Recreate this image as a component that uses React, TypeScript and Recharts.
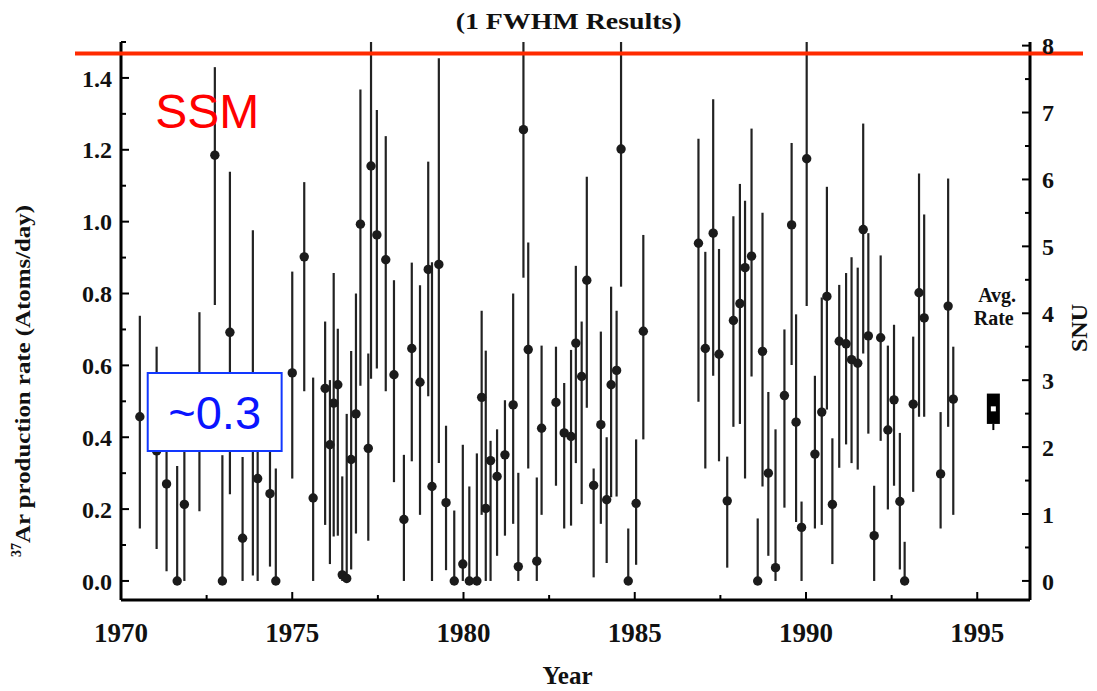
import React from "react";
import {
  ScatterChart,
  Scatter,
  XAxis,
  YAxis,
  ErrorBar,
  ReferenceLine,
  ReferenceArea,
  ReferenceDot,
  Label,
} from "recharts";

// run dates (fractional year)
const years = [
  1970.55, 1971.04, 1971.33, 1971.64, 1971.85, 1972.29, 1972.74, 1972.96, 1973.18, 1973.55,
  1973.85, 1973.99, 1974.35, 1974.52, 1975.0, 1975.35, 1975.61, 1975.96, 1976.1, 1976.21,
  1976.33, 1976.46, 1976.59, 1976.72, 1976.86, 1976.99, 1977.22, 1977.3, 1977.47, 1977.73,
  1977.97, 1978.26, 1978.49, 1978.73, 1978.97, 1979.08, 1979.28, 1979.49, 1979.73, 1979.98,
  1980.17, 1980.39, 1980.53, 1980.65, 1980.79, 1980.98, 1981.21, 1981.45, 1981.6, 1981.75,
  1981.89, 1982.14, 1982.28, 1982.7, 1982.94, 1983.14, 1983.28, 1983.45, 1983.6, 1983.8,
  1984.01, 1984.18, 1984.31, 1984.47, 1984.6, 1984.81, 1985.04, 1985.25, 1986.86, 1987.06,
  1987.29, 1987.46, 1987.7, 1987.88, 1988.07, 1988.22, 1988.41, 1988.59, 1988.73, 1988.9,
  1989.11, 1989.37, 1989.58, 1989.71, 1989.87, 1990.02, 1990.26, 1990.46, 1990.61, 1990.77,
  1990.97, 1991.17, 1991.33, 1991.51, 1991.67, 1991.82, 1991.99, 1992.18, 1992.39, 1992.57,
  1992.74, 1992.88, 1993.13, 1993.3, 1993.45, 1993.93, 1994.15, 1994.3,
];

// 37Ar production rate (atoms/day)
const rates = [
  0.457, 0.362, 0.27, 0, 0.213, 0.47, 1.185, 0, 0.692, 0.119,
  0.5, 0.285, 0.243, 0, 0.579, 0.902, 0.231, 0.536, 0.379, 0.495,
  0.546, 0.017, 0.007, 0.338, 0.465, 0.993, 0.369, 1.155, 0.963, 0.894,
  0.574, 0.171, 0.647, 0.553, 0.867, 0.263, 0.881, 0.218, 0, 0.047,
  0, 0, 0.511, 0.202, 0.335, 0.291, 0.351, 0.49, 0.04, 1.256,
  0.644, 0.055, 0.425, 0.497, 0.412, 0.402, 0.662, 0.569, 0.837, 0.266,
  0.435, 0.226, 0.546, 0.586, 1.202, 0, 0.216, 0.695, 0.94, 0.647,
  0.968, 0.631, 0.223, 0.725, 0.772, 0.872, 0.904, 0, 0.639, 0.3,
  0.037, 0.516, 0.991, 0.442, 0.149, 1.175, 0.353, 0.47, 0.792, 0.213,
  0.667, 0.66, 0.616, 0.606, 0.978, 0.682, 0.126, 0.677, 0.42, 0.504,
  0.221, 0, 0.492, 0.802, 0.732, 0.298, 0.765, 0.506,
];

// lower end of the 1 FWHM bar
const lowEnds = [
  0.146, 0.089, 0.027, 0, 0, 0.194, 0.768, 0, 0.241, 0,
  0.015, 0, 0.04, 0, 0.285, 0.528, 0, 0.156, 0.047, 0.124,
  0.126, 0, 0, 0.032, 0.132, 0.543, 0.112, 0.563, 0.591, 0.528,
  0.275, 0, 0.333, 0.184, 0.514, 0, 0.328, 0.03, 0, 0,
  0, 0, 0.184, 0, 0, 0.07, 0.126, 0.159, 0, 0.844,
  0.313, 0, 0.184, 0.265, 0.146, 0.154, 0.328, 0.214, 0.482, 0.01,
  0.159, 0.05, 0.233, 0.235, 0.819, 0, 0.045, 0.394, 0.499, 0.313,
  0.571, 0.333, 0.037, 0.429, 0.437, 0.285, 0.569, 0, 0.263, 0.07,
  0, 0.204, 0.601, 0.164, 0, 0.765, 0.146, 0.156, 0.477, 0.047,
  0.315, 0.38, 0.328, 0.31, 0.633, 0.41, 0, 0.39, 0.199, 0.265,
  0.032, 0, 0.248, 0.457, 0.457, 0.146, 0.429, 0.184,
];

// upper end of the 1 FWHM bar
const highEnds = [
  0.738, 0.652, 0.51, 0.32, 0.45, 0.748, 1.43, 0.35, 1.139, 0.345,
  0.976, 0.56, 0.46, 0.313, 0.861, 1.11, 0.566, 0.722, 0.559, 0.857,
  0.702, 0.291, 0.465, 0.64, 0.8, 1.368, 0.633, 1.5, 1.311, 1.238,
  0.837, 0.351, 0.886, 0.823, 1.167, 0.887, 1.455, 0.432, 0.196, 0.379,
  0.263, 0.355, 0.752, 0.641, 0.39, 0.422, 0.503, 0.8, 0.301, 1.5,
  0.942, 0.288, 0.655, 0.652, 0.551, 0.643, 0.877, 0.722, 1.125, 0.313,
  0.694, 0.4, 0.819, 0.752, 1.5, 0.146, 0.394, 0.963, 1.231, 0.916,
  1.341, 0.924, 0.346, 1.015, 1.105, 1.058, 1.259, 0.174, 1.025, 0.526,
  0.422, 0.7, 1.219, 0.742, 0.221, 1.5, 0.571, 0.789, 1.097, 0.397,
  0.824, 0.857, 0.901, 0.872, 1.273, 0.968, 0.265, 0.906, 0.655, 0.713,
  0.412, 0.109, 0.68, 1.134, 1.02, 0.47, 1.12, 0.652,
];

const xTicks = [1970, 1972.5, 1975, 1977.5, 1980, 1982.5, 1985, 1987.5, 1990, 1992.5, 1995];
const leftTicks = [0, 0.1, 0.2, 0.3, 0.4, 0.5, 0.6, 0.7, 0.8, 0.9, 1.0, 1.1, 1.2, 1.3, 1.4, 1.5];
const rightTicks = [0, 0.5, 1, 1.5, 2, 2.5, 3, 3.5, 4, 4.5, 5, 5.5, 6, 6.5, 7, 7.5, 8];

// average rate marker
const avgYear = 1995.47;
const avgRate = 0.479;
const avgBox = [0.437, 0.5215];
const avgTail = 0.42;

const ssmRate = 1.468;

const FONT = "'Liberation Serif', 'Times New Roman', serif";
const SANS = "'Liberation Sans', Arial, sans-serif";
const TM_Y = 9;
const TM_R = 12;
const TM_X = 20;

const points = years.map((yr, i) => ({
  year: yr,
  rate: rates[i],
  err: [rates[i] - lowEnds[i], highEnds[i] - rates[i]],
}));

function LeftTick(props: any) {
  const { x, y, payload } = props;
  const n = Math.round(payload.value * 10);
  const major = n % 2 === 0;
  const ax = x + TM_Y;
  return (
    <g>
      <line x1={ax} x2={ax + (major ? 8 : 5)} y1={y} y2={y} stroke="#000" strokeWidth={2} />
      {major && n <= 14 && (
        <text x={x} y={y} dy="0.36em" textAnchor="end" fontFamily={FONT} fontWeight="bold" fontSize={24} fill="#111">
          {payload.value.toFixed(1)}
        </text>
      )}
    </g>
  );
}

function RightTick(props: any) {
  const { x, y, payload } = props;
  const major = Number.isInteger(payload.value);
  const ax = x - TM_R;
  return (
    <g>
      <line x1={ax} x2={ax - (major ? 8 : 5)} y1={y} y2={y} stroke="#000" strokeWidth={2} />
      {major && (
        <text x={x} y={y} dy="0.36em" textAnchor="start" fontFamily={FONT} fontWeight="bold" fontSize={24} fill="#111">
          {payload.value}
        </text>
      )}
    </g>
  );
}

function BottomTick(props: any) {
  const { x, y, payload } = props;
  const major = payload.value % 5 === 0;
  const ay = y - TM_X;
  return (
    <g>
      <line x1={x} x2={x} y1={ay} y2={ay - (major ? 8 : 5)} stroke="#000" strokeWidth={2} />
      {major && (
        <text x={x} y={ay + 42} textAnchor="middle" fontFamily={FONT} fontWeight="bold" fontSize={27} fill="#111">
          {payload.value}
        </text>
      )}
    </g>
  );
}

function TopTick(props: any) {
  const { x, y, payload } = props;
  const major = payload.value % 5 === 0;
  const ay = y + TM_X;
  return <line x1={x} x2={x} y1={ay} y2={ay + (major ? 8 : 5)} stroke="#000" strokeWidth={2} />;
}

export default function App() {
  return (
    <div style={{ position: "absolute", left: 0, top: 0, background: "#fff" }}>
      <ScatterChart width={1097} height={691} margin={{ top: 42, right: 0, bottom: 0, left: 0 }}>
        <XAxis
          xAxisId="bottom"
          type="number"
          dataKey="year"
          domain={[1970, 1996.54]}
          allowDataOverflow
          ticks={xTicks}
          interval={0}
          height={91}
          tickSize={0}
          tickMargin={TM_X}
          tickLine={false}
          tick={<BottomTick />}
          axisLine={{ stroke: "#000", strokeWidth: 3 }}
        >
          <Label
            content={({ viewBox }: any) => (
              <text x={viewBox.x + viewBox.width / 2 - 8} y={viewBox.y + 84} textAnchor="middle" fontFamily={FONT} fontWeight="bold" fontSize={25} fill="#111">
                Year
              </text>
            )}
          />
        </XAxis>
        <XAxis
          xAxisId="top"
          orientation="top"
          type="number"
          dataKey="year"
          domain={[1970, 1996.54]}
          allowDataOverflow
          ticks={xTicks}
          interval={0}
          height={0}
          tickSize={0}
          tickMargin={TM_X}
          tickLine={false}
          tick={<TopTick />}
          axisLine={{ stroke: "#000", strokeWidth: 3 }}
        />
        <YAxis
          yAxisId="left"
          type="number"
          dataKey="rate"
          domain={[-0.053, 1.5]}
          allowDataOverflow
          ticks={leftTicks}
          interval={0}
          width={121}
          tickSize={0}
          tickMargin={TM_Y}
          tickLine={false}
          tick={<LeftTick />}
          axisLine={{ stroke: "#000", strokeWidth: 3 }}
        >
          <Label
            content={({ viewBox }: any) => {
              const cx = viewBox.x + 30;
              const cy = viewBox.y + viewBox.height / 2 + 60;
              return (
                <text transform={`translate(${cx}, ${cy}) rotate(-90)`} textAnchor="middle" fontFamily={FONT} fontWeight="bold" fontSize={22} fill="#111">
                  <tspan fontSize={14} dy={-9}>37</tspan>
                  <tspan dy={9} textLength={338} lengthAdjust="spacingAndGlyphs">
                    Ar production rate (Atoms/day)
                  </tspan>
                </text>
              );
            }}
          />
        </YAxis>
        <YAxis
          yAxisId="right"
          orientation="right"
          type="number"
          domain={[-0.285, 8.054]}
          allowDataOverflow
          ticks={rightTicks}
          interval={0}
          width={67}
          tickSize={0}
          tickMargin={TM_R}
          tickLine={false}
          tick={<RightTick />}
          axisLine={{ stroke: "#000", strokeWidth: 3 }}
        >
          <Label
            content={({ viewBox }: any) => {
              const cx = viewBox.x + 57;
              const cy = viewBox.y + viewBox.height / 2 + 7;
              return (
                <text transform={`translate(${cx}, ${cy}) rotate(-90)`} textAnchor="middle" fontFamily={FONT} fontWeight="bold" fontSize={24} fill="#111">
                  SNU
                </text>
              );
            }}
          />
        </YAxis>

        <Scatter
          data={points}
          xAxisId="bottom"
          yAxisId="left"
          dataKey="rate"
          isAnimationActive={false}
          shape={(p: any) => <circle cx={p.cx} cy={p.cy} r={4.7} fill="#1b1b1b" />}
        >
          <ErrorBar dataKey="err" direction="y" width={0} stroke="#222" strokeWidth={2.2} isAnimationActive={false} />
        </Scatter>

        {/* title, hung off the top edge of the plot */}
        <ReferenceDot
          xAxisId="bottom"
          yAxisId="left"
          x={1983.07}
          y={1.5}
          ifOverflow="visible"
          zIndex={1500}
          shape={(p: any) => (
            <text x={p.cx} y={p.cy - 13} textAnchor="middle" fontFamily={FONT} fontWeight="bold" fontSize={23} fill="#111" textLength={226} lengthAdjust="spacingAndGlyphs">
              (1 FWHM Results)
            </text>
          )}
        />

        <ReferenceLine
          xAxisId="bottom"
          yAxisId="left"
          y={ssmRate}
          stroke="#ff2a00"
          strokeWidth={4}
          ifOverflow="visible"
          zIndex={1500}
          shape={(p: any) => (
            <line x1={p.x1 - 46} x2={p.x2 + 53} y1={p.y1} y2={p.y2} stroke="#ff2a00" strokeWidth={4} />
          )}
        />
        <ReferenceDot
          xAxisId="bottom"
          yAxisId="left"
          x={1971.0}
          y={1.262}
          zIndex={1500}
          shape={(p: any) => (
            <text x={p.cx} y={p.cy} fontFamily={SANS} fontSize={48} fill="#ff0000">
              SSM
            </text>
          )}
        />

        <ReferenceArea
          xAxisId="bottom"
          yAxisId="left"
          x1={1970.78}
          x2={1974.69}
          y1={0.362}
          y2={0.579}
          fill="#ffffff"
          fillOpacity={1}
          stroke="#1238ff"
          strokeWidth={2}
          zIndex={1500}
          label={{ value: "~0.3", position: "center", fill: "#0a14ff", fontSize: 47, fontFamily: SANS }}
        />

        <ReferenceLine
          xAxisId="bottom"
          yAxisId="left"
          segment={[
            { x: avgYear, y: avgTail },
            { x: avgYear, y: avgBox[0] },
          ]}
          stroke="#000"
          strokeWidth={2}
          zIndex={1500}
        />
        <ReferenceArea
          xAxisId="bottom"
          yAxisId="left"
          x1={avgYear - 0.19}
          x2={avgYear + 0.19}
          y1={avgBox[0]}
          y2={avgBox[1]}
          fill="#000"
          fillOpacity={1}
          zIndex={1500}
        />
        <ReferenceDot
          xAxisId="bottom"
          yAxisId="left"
          x={avgYear}
          y={avgRate}
          zIndex={1600}
          shape={(p: any) => <rect x={p.cx - 2.5} y={p.cy - 2.5} width={5} height={5} fill="#fff" />}
        />
        <ReferenceDot
          xAxisId="bottom"
          yAxisId="left"
          x={1995.58}
          y={0.776}
          zIndex={1500}
          shape={(p: any) => (
            <text x={p.cx} y={p.cy} textAnchor="middle" fontFamily={FONT} fontWeight="bold" fontSize={20} fill="#111">
              Avg.
            </text>
          )}
        />
        <ReferenceDot
          xAxisId="bottom"
          yAxisId="left"
          x={1995.48}
          y={0.712}
          zIndex={1500}
          shape={(p: any) => (
            <text x={p.cx} y={p.cy} textAnchor="middle" fontFamily={FONT} fontWeight="bold" fontSize={20} fill="#111">
              Rate
            </text>
          )}
        />
      </ScatterChart>
    </div>
  );
}
